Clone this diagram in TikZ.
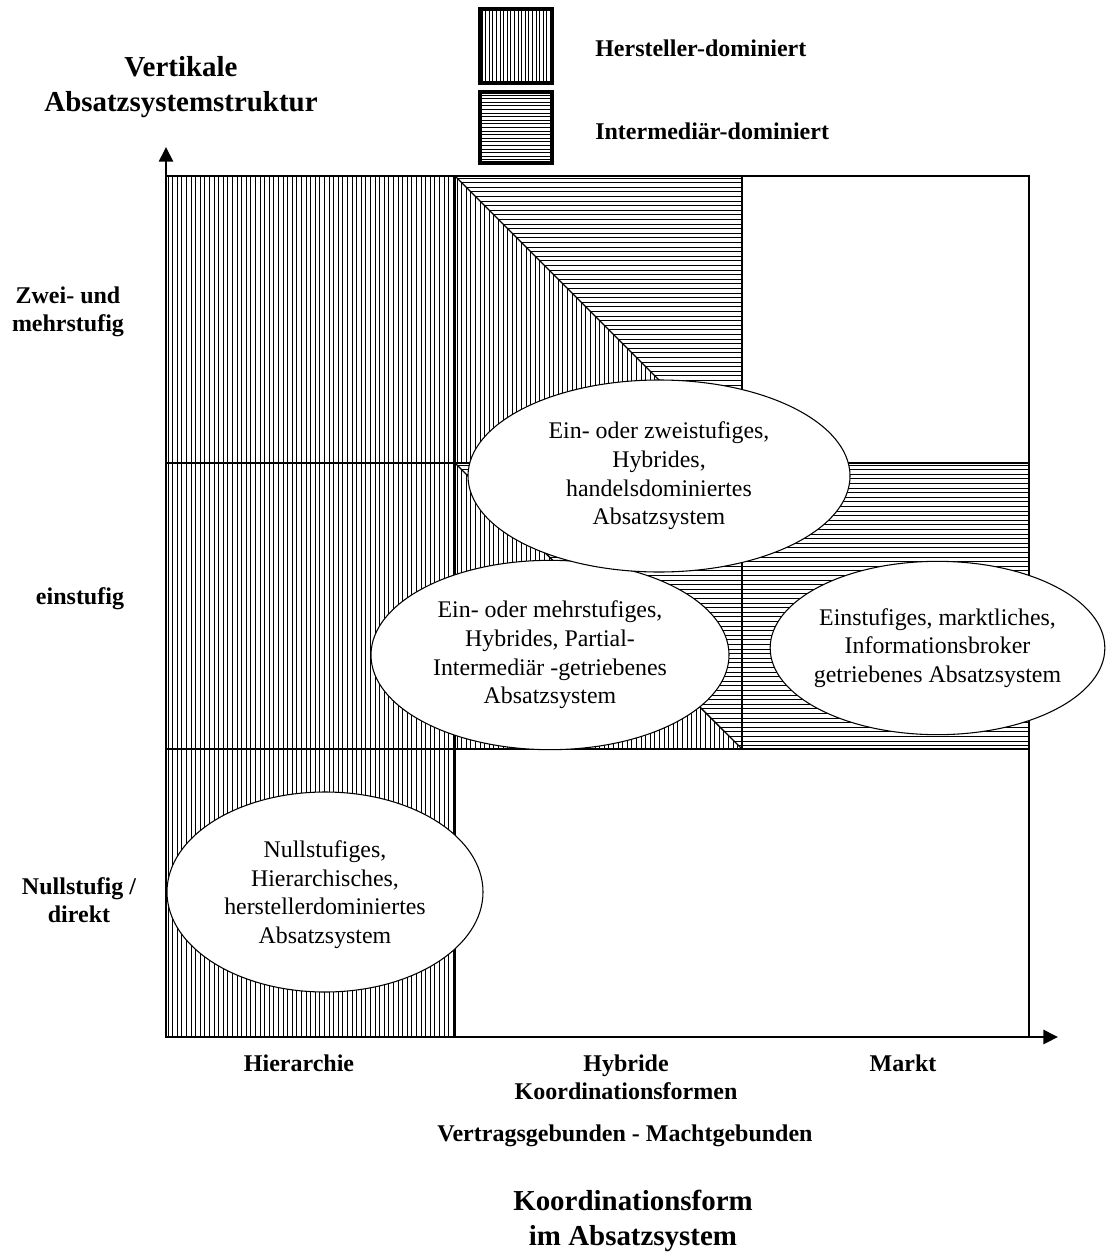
\documentclass[tikz,border=0pt]{standalone}
\usepackage{fontspec}
\setmainfont{Liberation Serif}
\usetikzlibrary{arrows.meta,shapes.geometric}

\begin{document}
\begin{tikzpicture}[x=0.75pt,y=-0.75pt,
  hatchline/.style={line width=0.6pt,black},
  gridline/.style={line width=1.4pt},
  axisline/.style={line width=2pt,-{Triangle[length=11pt,width=10.5pt]}},
  blob/.style={ellipse,draw,fill=white,line width=0.8pt,inner sep=0pt},
  blobtext/.style={align=center,inner sep=0pt,font=\fontsize{17.9}{21.5}\selectfont},
  lbl/.style={font=\bfseries\fontsize{18}{21}\selectfont,align=center,inner sep=0pt},
  titlelbl/.style={font=\bfseries\fontsize{21.7}{26.5}\selectfont,align=center,inner sep=0pt},
  legbox/.style={draw,line width=2pt}]

\useasboundingbox (0,0) rectangle (1107,1252);
\fill[white] (0,0) rectangle (1107,1252);

% ---------- hatched areas ----------
% vertical hatching: manufacturer column (all three rows)
\begin{scope}
  \clip (166,176) rectangle (455,1037);
  \foreach \hx in {168,172.6,...,456} \draw[hatchline] (\hx,176) -- (\hx,1037);
\end{scope}
% top middle cell: lower-left triangle vertical, upper-right horizontal
\begin{scope}
  \clip (455,176) -- (742,463) -- (455,463) -- cycle;
  \foreach \hx in {457,461.6,...,744} \draw[hatchline] (\hx,176) -- (\hx,463);
\end{scope}
\begin{scope}
  \clip (455,176) -- (742,176) -- (742,463) -- cycle;
  \foreach \hy in {178,182.6,...,464} \draw[hatchline] (455,\hy) -- (742,\hy);
\end{scope}
% middle middle cell: same split
\begin{scope}
  \clip (455,463) -- (742,749) -- (455,749) -- cycle;
  \foreach \hx in {457,461.6,...,744} \draw[hatchline] (\hx,463) -- (\hx,749);
\end{scope}
\begin{scope}
  \clip (455,463) -- (742,463) -- (742,749) -- cycle;
  \foreach \hy in {465,469.6,...,750} \draw[hatchline] (455,\hy) -- (742,\hy);
\end{scope}
% middle right cell: horizontal hatching
\begin{scope}
  \clip (742,463) rectangle (1029,749);
  \foreach \hy in {465,469.6,...,750} \draw[hatchline] (742,\hy) -- (1029,\hy);
\end{scope}

% ---------- grid ----------
\coordinate (O)  at (166,1037);
\coordinate (TL) at (166,176);
\coordinate (TR) at (1029,176);
\coordinate (BR) at (1029,1037);
\draw[gridline] (TL) -- (TR) -- (BR) -- (O) -- cycle;
\draw[gridline] (455,176) -- (455,1037);
\draw[gridline] (742,176) -- (742,463);
\draw[line width=0.8pt] (742,463) -- (742,749);
\draw[gridline] (166,463) -- (1029,463);
\draw[gridline] (166,749) -- (1029,749);
\draw[line width=1pt] (455,176) -- (742,463);
\draw[line width=1pt] (455,463) -- (742,749);

% ---------- ellipses ----------
\node[blob,minimum width=268.5pt,minimum height=142pt] (mix) at (550,655) {};
\node[blobtext] (mixtxt) at (mix.center)
  {Ein- oder mehrstufiges,\\Hybrides, Partial-\\Intermediär -getriebenes\\Absatzsystem};
\node[blob,minimum width=286.5pt,minimum height=144pt] (trade) at (659,476) {};
\node[blobtext] (tradetxt) at (trade.center)
  {Ein- oder zweistufiges,\\Hybrides,\\handelsdominiertes\\Absatzsystem};
\node[blob,minimum width=251pt,minimum height=130pt] (broker) at (937.5,648) {};
\node[blobtext] (brokertxt) at (broker.center)
  {Einstufiges, marktliches,\\Informationsbroker\\getriebenes Absatzsystem};
\node[blob,minimum width=237pt,minimum height=150pt] (direct) at (325,892) {};
\node[blobtext] (directtxt) at ([yshift=-2pt]direct.center)
  {Nullstufiges,\\Hierarchisches,\\herstellerdominiertes\\Absatzsystem};

% ---------- axes ----------
\coordinate (ytip) at (166,147);
\coordinate (xtip) at (1058,1037);
\draw[axisline] (O) -- (ytip);
\draw[axisline] (O) -- (xtip);

% ---------- legend ----------
\node[legbox,minimum width=53pt,minimum height=54pt,inner sep=0pt] (legH) at (515.5,46) {};
\begin{scope}
  \clip (legH.south west) rectangle (legH.north east);
  \foreach \hx in {482,485.6,...,552} \draw[hatchline] (\hx,10) -- (\hx,82);
\end{scope}
\draw[line width=2pt] (legH.south west) rectangle (legH.north east);
\node[legbox,minimum width=53pt,minimum height=52pt,inner sep=0pt] (legI) at (515.5,127.5) {};
\begin{scope}
  \clip (legI.south west) rectangle (legI.north east);
  \foreach \hy in {95,98.6,...,163} \draw[hatchline] (480,\hy) -- (551,\hy);
\end{scope}
\draw[line width=2pt] (legI.south west) rectangle (legI.north east);
\node[lbl,anchor=west] (legHtxt) at (595,48) {Hersteller-dominiert};
\node[lbl,anchor=west] (legItxt) at (595,131) {Intermediär-dominiert};

% ---------- axis titles and labels ----------
\node[titlelbl] (ytitle) at (181,87) {Vertikale\\Absatzsystemstruktur};
\node[lbl] (row3) at (68,312) {Zwei- und\\mehrstufig};
\node[lbl] (row2) at (80,599) {einstufig};
\node[lbl] (row1) at (79,900) {Nullstufig /\\direkt};
\node[lbl] (col1) at (299,1063) {Hierarchie};
\node[lbl] (col2) at (626,1077) {Hybride\\Koordinationsformen};
\node[lbl] (col3) at (903,1063) {Markt};
\node[lbl] (bind) at (625,1136) {Vertragsgebunden - Machtgebunden};
\node[titlelbl] (xtitle) at (633,1221) {Koordinationsform\\im Absatzsystem};
\end{tikzpicture}
\end{document}
